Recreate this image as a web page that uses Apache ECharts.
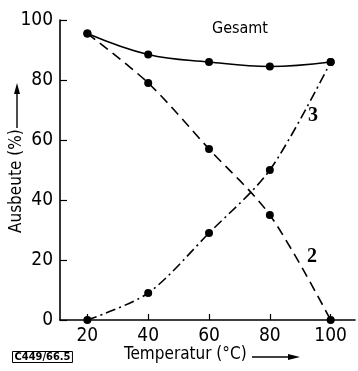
<!DOCTYPE html>
<html>
<head>
<meta charset="utf-8">
<script src="https://cdn.jsdelivr.net/npm/echarts@6/dist/echarts.min.js"></script>
<style>
  html, body { margin: 0; padding: 0; background: #fff; }
  #chart { width: 358px; height: 371px; }
</style>
</head>
<body>
<div id="chart"></div>
<script>
var temps = [20, 40, 60, 80, 100];
var gesamt = [95.5, 88.5, 86, 84.5, 86];
var kurve2 = [95.5, 79, 57, 35, 0];
var kurve3 = [0, 9, 29, 50, 86];
var xTicks = [20, 40, 60, 80, 100];

var font = '"Liberation Sans Narrow", "DejaVu Sans Condensed", sans-serif';

function pairs(vals) {
  return temps.map(function (t, i) { return [t, vals[i]]; });
}

var myChart = echarts.init(document.getElementById('chart'));
var option = {
  backgroundColor: '#fff',
  animation: false,
  grid: { left: 60, top: 20, right: 3, bottom: 51 },
  xAxis: {
    type: 'value',
    min: 11,
    max: 108,
    axisLine: { lineStyle: { color: '#000', width: 1.6 } },
    axisTick: { inside: true, length: 6, customValues: xTicks, lineStyle: { color: '#000', width: 1.2 } },
    axisLabel: { customValues: xTicks, color: '#000', fontSize: 19, fontFamily: font, margin: 7 },
    splitLine: { show: false }
  },
  yAxis: {
    type: 'value',
    min: 0,
    max: 100,
    interval: 20,
    axisLine: { show: true, lineStyle: { color: '#000', width: 1.6 } },
    axisTick: { inside: true, length: 7, lineStyle: { color: '#000', width: 1.2 } },
    axisLabel: { color: '#000', fontSize: 19, fontFamily: font, margin: 7 },
    splitLine: { show: false }
  },
  series: [{
    name: 'Gesamt',
    type: 'line',
    data: pairs(gesamt),
    smooth: 0.4,
    symbol: 'circle',
    symbolSize: 8,
    itemStyle: { color: '#000' },
    lineStyle: { color: '#000', width: 1.6 }
  }, {
    name: '2',
    type: 'line',
    data: pairs(kurve2),
    smooth: 0.3,
    symbol: 'circle',
    symbolSize: 8,
    itemStyle: { color: '#000' },
    lineStyle: { color: '#000', width: 1.6, type: [10, 6] }
  }, {
    name: '3',
    type: 'line',
    data: pairs(kurve3),
    smooth: 0.3,
    symbol: 'circle',
    symbolSize: 8,
    itemStyle: { color: '#000' },
    lineStyle: { color: '#000', width: 1.6, type: [10, 4, 2, 4] }
  }],
  graphic: [{
    type: 'text', left: 212, top: 21,
    style: { text: 'Gesamt', font: '16px ' + font, fill: '#000' }
  }, {
    type: 'text', left: 308, top: 106,
    style: { text: '3', font: 'bold 20px "Liberation Serif", serif', fill: '#000' }
  }, {
    type: 'text', left: 307, top: 247,
    style: { text: '2', font: 'bold 20px "Liberation Serif", serif', fill: '#000' }
  }, {
    type: 'text', x: 8, y: 233, rotation: Math.PI / 2,
    style: { text: 'Ausbeute (%)', font: '17px ' + font, fill: '#000' }
  }, {
    type: 'line', shape: { x1: 17, y1: 128, x2: 17, y2: 88 },
    style: { stroke: '#000', lineWidth: 1.4 }
  }, {
    type: 'polygon', shape: { points: [[14, 94], [17, 83], [20, 94]] },
    style: { fill: '#000' }
  }, {
    type: 'text', left: 124, top: 346,
    style: { text: 'Temperatur (°C)', font: '17px ' + font, fill: '#000' }
  }, {
    type: 'line', shape: { x1: 252, y1: 357, x2: 294, y2: 357 },
    style: { stroke: '#000', lineWidth: 1.4 }
  }, {
    type: 'polygon', shape: { points: [[288, 354], [300, 357], [288, 360]] },
    style: { fill: '#000' }
  }, {
    type: 'text', left: 12, top: 351,
    style: {
      text: 'C449/66.5', font: 'bold 11px ' + font, fill: '#000',
      borderColor: '#000', borderWidth: 1, padding: [0, 2]
    }
  }]
};
myChart.setOption(option);
</script>
</body>
</html>
